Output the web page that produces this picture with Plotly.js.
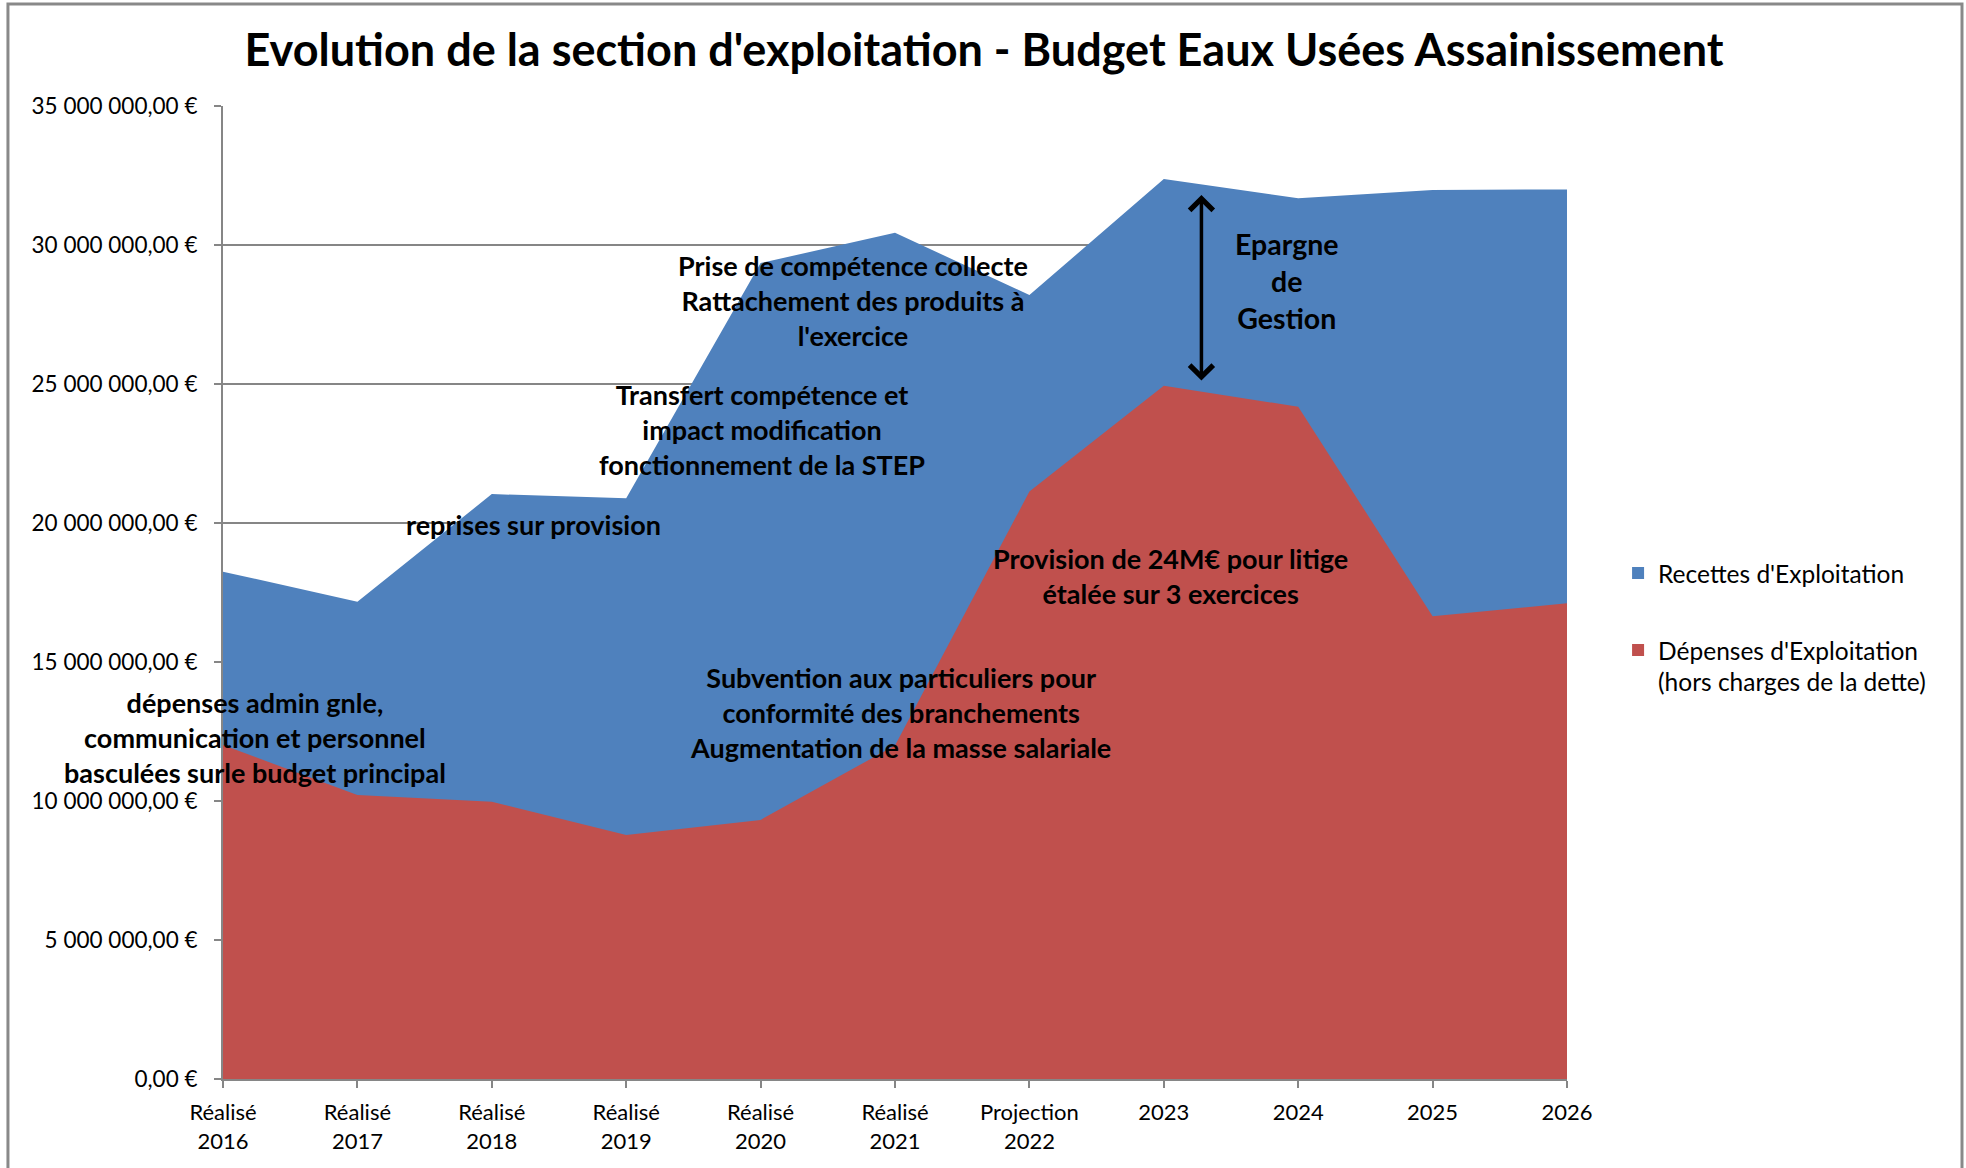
<!DOCTYPE html>
<html>
<head>
<meta charset="utf-8">
<script src="https://cdn.plot.ly/plotly-3.0.1.min.js"></script>
<style>
html,body{margin:0;padding:0;background:#fff;}
#chart{width:1966px;height:1168px;}
</style>
</head>
<body>
<div id="chart"></div>
<script>
// ---- data ----
const categories = ["Réalisé<br>2016","Réalisé<br>2017","Réalisé<br>2018","Réalisé<br>2019","Réalisé<br>2020","Réalisé<br>2021","Projection<br>2022","2023","2024","2025","2026"];
const recettes = [18250000,17170000,21040000,20890000,29350000,30440000,28200000,32370000,31680000,31980000,32000000];
const depenses = [12010000,10220000,9970000,8780000,9320000,12000000,21130000,24940000,24180000,16650000,17110000];
const seriesNames = ["Recettes d'Exploitation","Dépenses d'Exploitation<br>(hors charges de la dette)"];
const seriesColors = ["#4F81BD","#C0504D"];
const yTickValues = [0,5000000,10000000,15000000,20000000,25000000,30000000,35000000];
const titleText = "Evolution de la section d'exploitation - Budget Eaux Usées Assainissement";
const notes = [
  {text:"Epargne<br>de<br>Gestion", x:7.92, y:28700000, size:28.5},
  {text:"Prise de compétence collecte<br>Rattachement des produits à<br>l'exercice", x:4.69, y:27990000, size:27},
  {text:"Transfert compétence et<br>impact modification<br>fonctionnement de la STEP", x:4.01, y:23380000, size:27},
  {text:"reprises sur provision", x:2.31, y:19930000, size:27},
  {text:"dépenses admin gnle,<br>communication et personnel<br>basculées surle budget principal", x:0.24, y:12300000, size:27},
  {text:"Subvention aux particuliers pour<br>conformité des branchements<br>Augmentation de la masse salariale", x:5.04, y:13200000, size:27},
  {text:"Provision de 24M€ pour litige<br>étalée sur 3 exercices", x:7.05, y:18110000, size:27}
];
const arrowInfo = {x:7.28, yTop:31800000, yBottom:25070000};

const FONT = "Lato, 'Open Sans', sans-serif";

function euro(v){
  const parts = v.toFixed(2).split('.');
  const intPart = parts[0].replace(/\B(?=(\d{3})+(?!\d))/g, ' ');
  return intPart + ',' + parts[1] + ' €';
}

const traces = [
  {x:categories, y:recettes, type:'scatter', mode:'none', fill:'tozeroy', fillcolor:seriesColors[0], name:seriesNames[0], showlegend:false, hoverinfo:'skip'},
  {x:categories, y:depenses, type:'scatter', mode:'none', fill:'tozeroy', fillcolor:seriesColors[1], name:seriesNames[1], showlegend:false, hoverinfo:'skip'},
  {x:[null], y:[null], type:'scatter', mode:'markers', marker:{symbol:'square', size:15, color:seriesColors[0]}, name:seriesNames[0], legendgroup:'a'},
  {x:[null], y:[null], type:'scatter', mode:'markers', marker:{symbol:'square', size:15, color:seriesColors[1]}, name:seriesNames[1], legendgroup:'b'}
];

const annotations = notes.map(n => ({
  x:n.x, y:n.y, xref:'x', yref:'y', text:n.text, showarrow:false,
  font:{family:FONT, size:n.size, color:'#000', weight:'bold'}, align:'center', xanchor:'center', yanchor:'middle'
}));
annotations.push({
  x:arrowInfo.x, y:arrowInfo.yTop, ax:arrowInfo.x, ay:arrowInfo.yBottom,
  xref:'x', yref:'y', axref:'x', ayref:'y', text:'', showarrow:true,
  arrowside:'end+start', arrowhead:4, startarrowhead:4, arrowsize:1.3, startarrowsize:1.3, arrowwidth:3.5, arrowcolor:'#000'
});

const layout = {
  width:1966, height:1168,
  paper_bgcolor:'#fff', plot_bgcolor:'#fff',
  margin:{l:223, r:399, t:106, b:89},
  font:{family:FONT, color:'#000'},
  title:{text:titleText, font:{family:FONT, size:45, color:'#000', weight:'bold'}, x:0.5005, xanchor:'center', y:0.957, yanchor:'middle'},
  xaxis:{type:'category', range:[0,10], showgrid:false, zeroline:false, showline:true, linecolor:'#868686', linewidth:2,
         ticks:'outside', ticklen:7, tickwidth:2, tickcolor:'#868686', ticklabelstandoff:6,
         tickfont:{family:FONT, size:22, color:'#000'}, tickangle:0, fixedrange:true},
  yaxis:{range:[0,35000000], tickvals:yTickValues, ticktext:yTickValues.map(euro),
         showgrid:true, gridcolor:'#868686', gridwidth:2, zeroline:false, showline:true, linecolor:'#868686', linewidth:2,
         ticks:'outside', ticklen:7, tickwidth:2, tickcolor:'#868686', ticklabelstandoff:12,
         tickfont:{family:FONT, size:22.5, color:'#000'}, fixedrange:true},
  legend:{x:1.038, y:0.543, xanchor:'left', yanchor:'top', traceorder:'grouped', tracegroupgap:42, valign:'top',
          font:{family:FONT, size:24.5, color:'#000'}, itemsizing:'constant', bgcolor:'rgba(0,0,0,0)'},
  annotations:annotations,
  shapes:[{type:'rect', xref:'paper', yref:'paper', x0:-0.1600, x1:1.2939, y0:-0.12, y1:1.1048, line:{color:'#898989', width:3}, fillcolor:'rgba(0,0,0,0)', layer:'below'}]
};

Plotly.newPlot('chart', traces, layout, {staticPlot:true, displayModeBar:false});
</script>
</body>
</html>
